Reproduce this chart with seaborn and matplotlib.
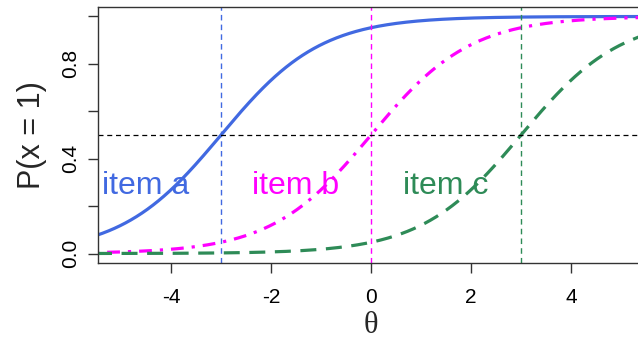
import numpy as np
import pandas as pd
import matplotlib
matplotlib.use("Agg")
import matplotlib.pyplot as plt
import seaborn as sns

# Data: item names, difficulties (Rasch), colours
items = ["item a", "item b", "item c"]
difficulty = [-3.0, 0.0, 3.0]
colors = ["#4169E1", "#FF00FF", "#2E8B57"]
x_ticks = [-4, -2, 0, 2, 4]
y_ticks = [0.0, 0.2, 0.4, 0.6, 0.8, 1.0]
y_tick_labels = ["0.0", "", "0.4", "", "0.8", ""]

theta = np.linspace(-5.5, 5.5, 600)
frames = []
for name, b in zip(items, difficulty):
    frames.append(pd.DataFrame({"theta": theta,
                                "p": 1.0 / (1.0 + np.exp(-(theta - b))),
                                "item": name}))
df = pd.concat(frames, ignore_index=True)

sns.set_theme(style="ticks")
plt.rcParams["font.family"] = ["Liberation Sans", "DejaVu Sans"]

fig = plt.figure(figsize=(6.38, 3.42), dpi=100)
ax = fig.add_axes([98/638, 1 - 263/342, (644 - 98)/638, (263 - 7)/342])

dash_styles = {"item a": "", "item b": (1, 2.5, 4, 2.5), "item c": (5, 3)}
sns.lineplot(data=df, x="theta", y="p", hue="item", style="item",
             palette=dict(zip(items, colors)), dashes=dash_styles,
             linewidth=2.3, ax=ax, legend=False, sort=False)

for b, c in zip(difficulty, colors):
    ax.axvline(b, color=c, lw=1.0, ls=(0, (4, 3)))
ax.axhline(0.5, color="black", lw=0.9, ls=(0, (4, 3)))

for name, b, c in zip(items, difficulty, colors):
    ax.text(b - 1.5, 0.285, name, color=c, fontsize=23, ha="center", va="center")

ax.set_xlim(-5.46, 5.46)
ax.set_ylim(-0.04, 1.04)
ax.set_xticks(x_ticks)
ax.set_xticklabels([str(t) for t in x_ticks], fontsize=15)
ax.set_yticks(y_ticks)
ax.set_yticklabels(y_tick_labels, fontsize=15, rotation=90, va="center")
ax.tick_params(direction="out", length=7, width=1, colors="#333333",
               labelcolor="black", pad=6)
ax.tick_params(axis="x", pad=11)
for s in ax.spines.values():
    s.set_color("#333333")
    s.set_linewidth(1)
ax.set_xlabel("θ", fontsize=22, family=["Liberation Serif", "DejaVu Serif"], labelpad=3)
ax.set_ylabel("P(x = 1)", fontsize=22, labelpad=10)

fig.savefig("out.png", dpi=100)
